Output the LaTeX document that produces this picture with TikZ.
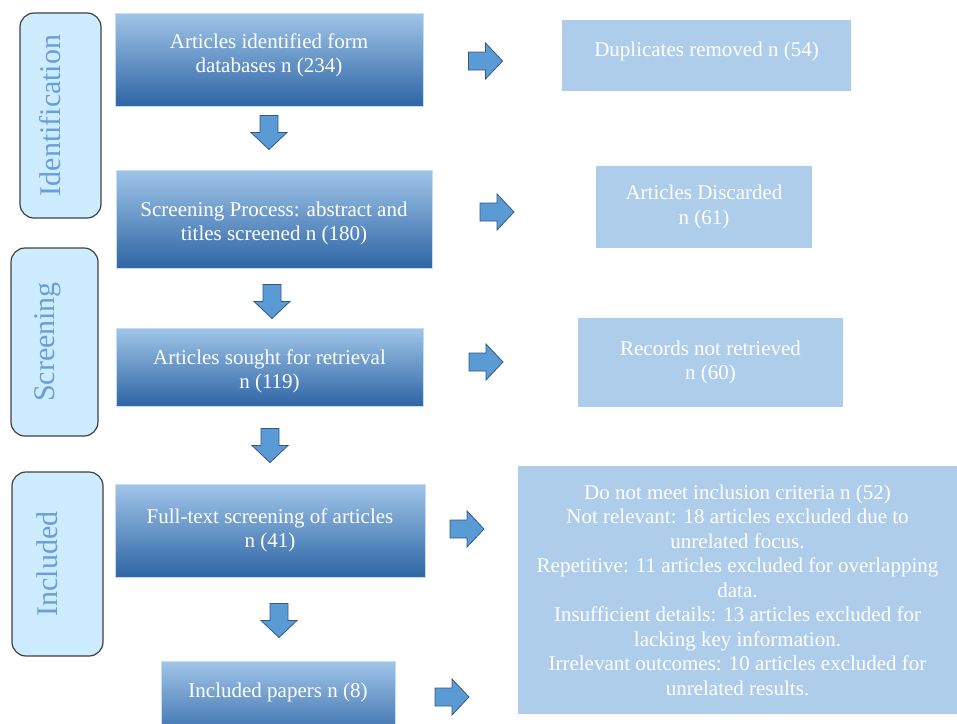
\documentclass[tikz,border=0pt]{standalone}
\usepackage{fontspec}
\setmainfont{Liberation Serif}
\usetikzlibrary{positioning}

\definecolor{boxtop}{RGB}{160,197,232}
\definecolor{boxmid}{RGB}{92,151,211}
\definecolor{boxbot}{RGB}{46,101,165}
\definecolor{lightbox}{RGB}{174,205,234}
\definecolor{sidefill}{RGB}{205,236,255}
\definecolor{sideline}{RGB}{64,64,64}
\definecolor{sidetext}{RGB}{105,158,216}
\definecolor{arrowfill}{RGB}{91,155,213}
\definecolor{arrowline}{RGB}{52,88,135}

\tikzset{
    stage/.style={draw=boxtop!60!white, line width=0.6pt, top color=boxtop, middle color=boxmid, bottom color=boxbot,
        text=white, align=center, inner sep=0pt, font=\fontsize{21}{24.5}\selectfont},
    removed/.style={fill=lightbox, text=white, align=center, inner sep=0pt, font=\fontsize{21}{24.5}\selectfont},
    phase/.style={draw=sideline, line width=1.2pt, fill=sidefill, rounded corners=14pt, rotate=90,
        text=sidetext, inner sep=0pt, text height=21, text depth=21, font=\fontsize{30}{30}\selectfont},
    pics/flowarrow/.style={code={
        \draw[fill=arrowfill, draw=arrowline, line width=0.8pt]
            (-17,-9) -- (0,-9) -- (0,-18) -- (17,0) -- (0,18) -- (0,9) -- (-17,9) -- cycle;}}
}

\begin{document}
\begin{tikzpicture}[x=1pt, y=-1pt]

        \useasboundingbox (0,0) rectangle (957,723);
        \clip (0,0) rectangle (957,723);

        % phases
        \node[phase, minimum width=205, minimum height=81] (identification) at (60.5,115.5) {Identification};
        \node[phase, minimum width=188, minimum height=87] (screening) at (54.5,342) {Screening};
        \node[phase, minimum width=184, minimum height=91] (included) at (57.5,564) {Included};

        % identified
        \node[stage, minimum width=308, minimum height=93, text height=39.5, text depth=13.5] (identified) at (269,59.5) {Articles identified form\\databases n (234)};
        \node[removed, minimum width=289, minimum height=71, text height=15, text depth=13] (duplicates) at (706.5,55.5) {Duplicates removed n (54)};

        % screened
        \node[stage, minimum width=316, minimum height=98, text height=47.5, text depth=4.5] (screened) at (274,219) {Screening Process: abstract and\\titles screened n (180)};
        \node[removed, minimum width=216, minimum height=82] (discarded) at (704,207) {Articles Discarded\\n (61)};

        % sought
        \node[stage, minimum width=307, minimum height=78, text height=47.5, text depth=4.5] (sought) at (269.5,367) {Articles sought for retrieval\\n (119)};
        \node[removed, minimum width=265, minimum height=89] (not_retrieved) at (710.5,362.5) {Records not retrieved\\n (60)};

        % full text
        \node[stage, minimum width=310, minimum height=93] (full_text) at (270,530.5) {Full-text screening of articles\\n (41)};
        \node[removed, minimum width=439, minimum height=248] (excluded) at (737.5,590) {Do not meet inclusion criteria n (52)\\
            Not relevant: 18 articles excluded due to\\unrelated focus.\\
            Repetitive: 11 articles excluded for overlapping\\data.\\
            Insufficient details: 13 articles excluded for\\lacking key information.\\
            Irrelevant outcomes: 10 articles excluded for\\unrelated results.};

        % included papers
        \node[stage, minimum width=234, text height=36, text depth=48, anchor=north] (papers) at (278,661) {Included papers n (8)};

        % down arrows
        \pic[rotate=-90] at (269,132.5) {flowarrow};
        \pic[rotate=-90] at (272,301.5) {flowarrow};
        \pic[rotate=-90] at (270,445.5) {flowarrow};
        \pic[rotate=-90] at (279,620.5) {flowarrow};

        % right arrows
        \pic at (485.5,61) {flowarrow};
        \pic at (497,212) {flowarrow};
        \pic at (486,362) {flowarrow};
        \pic at (467,529) {flowarrow};
        \pic at (452,697) {flowarrow};

\end{tikzpicture}
\end{document}
